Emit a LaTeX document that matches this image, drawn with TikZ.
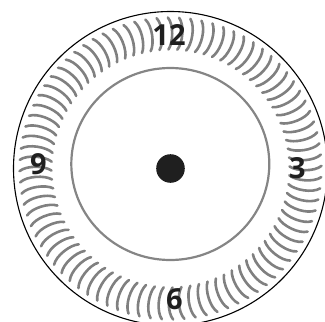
\documentclass[tikz,border=0pt]{standalone}
\usepackage{fontspec}
\setmainfont{Open Sans}
\begin{document}
\begin{tikzpicture}[x=1pt,y=1pt,
  rim/.style={draw=black,line width=1.1pt},
  groove/.style={draw=black!50,line width=2.6pt,line cap=round},
  ring/.style={draw=black!48,line width=2.2pt},
  hub/.style={circle,fill=black!88,minimum size=28.6pt,inner sep=0pt},
  num/.style={font=\fontsize{29}{29}\selectfont\bfseries,text=black!88,inner sep=0pt}]
\useasboundingbox (0,-322) rectangle (325,0);
\clip (0,-322) rectangle (325,0);
\coordinate (c) at (170.5,-168.5);
\foreach \k in {0,...,83}{
  \pgfmathsetmacro{\t}{\k*4.285714+1}
  \pgfmathsetmacro{\u}{\t-2.3}
  \draw[groove] ([shift={(\t:119)}]c) .. controls ([shift={(\u:126)}]c) and ([shift={(\u:144)}]c) .. ([shift={(\t:151)}]c);
}
\draw[rim] (c) circle (157);
\draw[ring] (170.3,-164) ellipse (99 and 96);
\node[hub] (h) at (c) {};
\node[num] (n12) at (169,-35) {12};
\node[num] (n3) at (297.5,-168) {3};
\node[num] (n6) at (174.5,-299) {6};
\node[num] (n9) at (38.5,-164) {9};
\end{tikzpicture}
\end{document}
